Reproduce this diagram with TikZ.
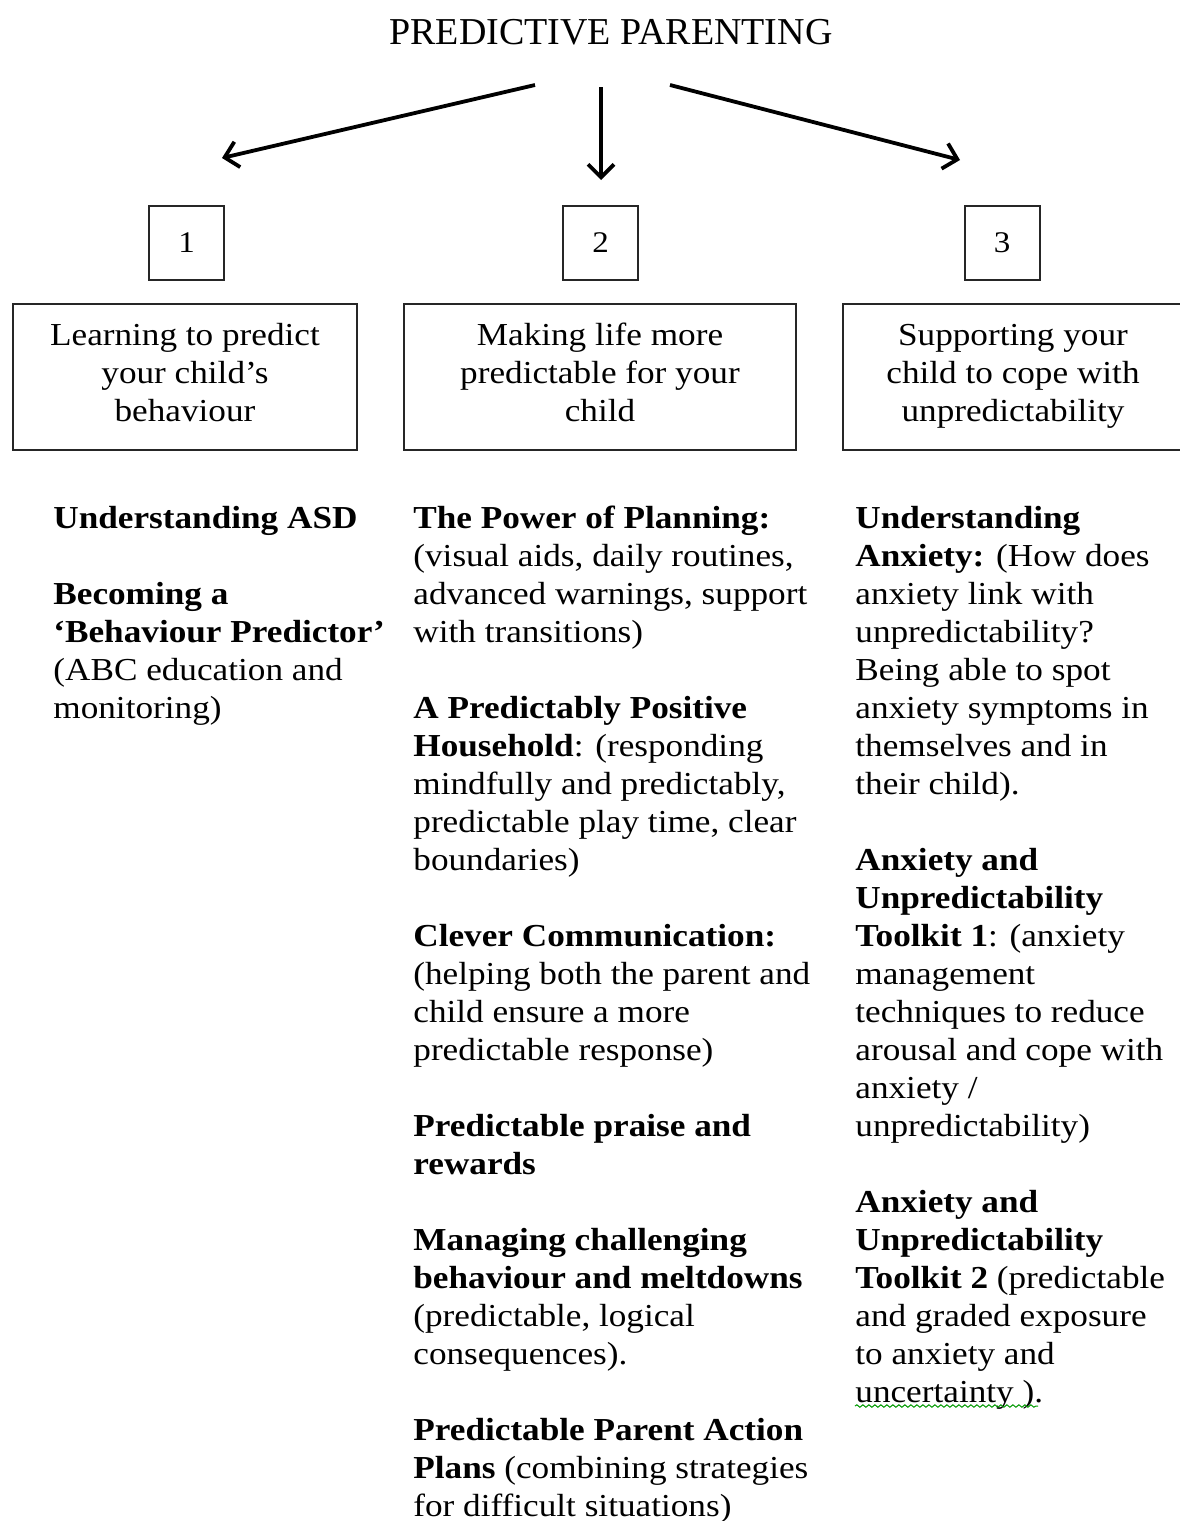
\documentclass[tikz,border=0pt]{standalone}
\usepackage{fontspec}
\setmainfont{Liberation Serif}
\newfontfamily\bodyfont{Liberation Serif}[FakeStretch=1.1]
\usetikzlibrary{arrows.meta,decorations.pathmorphing}
\newcommand{\ls}{\rule[-5pt]{0pt}{19pt}}
\begin{document}
\begin{tikzpicture}[x=0.5pt,y=-0.5pt,
 numbox/.style={draw=black!85, line width=1pt, minimum width=37.5pt, minimum height=37pt, inner sep=0pt, font=\bodyfont\fontsize{15}{19}\selectfont},
 topicbox/.style={draw=black!85, line width=1pt, inner sep=0pt, align=center, minimum height=73pt, font=\bodyfont\fontsize{16}{19}\selectfont},
 boxtext/.style={inner sep=0pt, align=center, font=\bodyfont\fontsize{16}{19}\selectfont},
 coltext/.style={anchor=north west, inner sep=0pt, align=left, font=\bodyfont\fontsize{16}{19}\selectfont},
 arr/.style={line width=1.9pt, -{Straight Barb[length=6.5pt,width=13pt]}}]
\useasboundingbox[fill=white] (0,0) rectangle (1179,1521);

\node[font=\fontsize{19}{22}\selectfont] (title) at (611,32) {PREDICTIVE PARENTING};

\coordinate (s1) at (535,85); \coordinate (e1) at (222,158);
\coordinate (s2) at (601,87); \coordinate (e2) at (601,180);
\coordinate (s3) at (670,85); \coordinate (e3) at (960,160);
\draw[arr] (s1) -- (e1);
\draw[arr] (s2) -- (e2);
\draw[arr] (s3) -- (e3);

\node[numbox] (n1) at (186.5,243) {1};
\node[numbox] (n2) at (600.5,243) {2};
\node[numbox] (n3) at (1002,243) {3};

\node[topicbox, minimum width=172pt] (b1) at (185,377) {};
\node[topicbox, minimum width=196pt] (b2) at (600,377) {};
\node[topicbox, minimum width=171pt] (b3) at (1014,377) {};
\node[boxtext] (t1) at (185,374) {\ls Learning to predict\\\ls your child’s\\\ls behaviour};
\node[boxtext] (t2) at (600,374) {\ls Making life more\\\ls predictable for your\\\ls child};
\node[boxtext] (t3) at (1013,374) {\ls Supporting your\\\ls child to cope with\\\ls unpredictability};

\node[coltext] (c1) at (53,506) {\textbf{Understanding ASD}\\[19pt]
\textbf{Becoming a}\\
\textbf{‘Behaviour Predictor’}\\
(ABC education and\\
monitoring)};

\node[coltext] (c2) at (413,506) {\textbf{The Power of Planning:}\\
(visual aids, daily routines,\\
advanced warnings, support\\
with transitions)\\[19pt]
\textbf{A Predictably Positive}\\
\textbf{Household}: (responding\\
mindfully and predictably,\\
predictable play time, clear\\
boundaries)\\[19pt]
\textbf{Clever Communication:}\\
(helping both the parent and\\
child ensure a more\\
predictable response)\\[19pt]
\textbf{Predictable praise and}\\
\textbf{rewards}\\[19pt]
\textbf{Managing challenging}\\
\textbf{behaviour and meltdowns}\\
(predictable, logical\\
consequences).\\[19pt]
\textbf{Predictable Parent Action}\\
\textbf{Plans} (combining strategies\\
for difficult situations)};

\node[coltext] (c3) at (855,506) {\textbf{Understanding}\\
\textbf{Anxiety:} (How does\\
anxiety link with\\
unpredictability?\\
Being able to spot\\
anxiety symptoms in\\
themselves and in\\
their child).\\[19pt]
\textbf{Anxiety and}\\
\textbf{Unpredictability}\\
\textbf{Toolkit 1}: (anxiety\\
management\\
techniques to reduce\\
arousal and cope with\\
anxiety /\\
unpredictability)\\[19pt]
\textbf{Anxiety and}\\
\textbf{Unpredictability}\\
\textbf{Toolkit 2} (predictable\\
and graded exposure\\
to anxiety and\\
uncertainty ).};

\draw[green!60!black, line width=0.5pt, decorate, decoration={snake, amplitude=0.6pt, segment length=3pt}] (855,1406) -- (1038,1406);
\end{tikzpicture}
\end{document}
